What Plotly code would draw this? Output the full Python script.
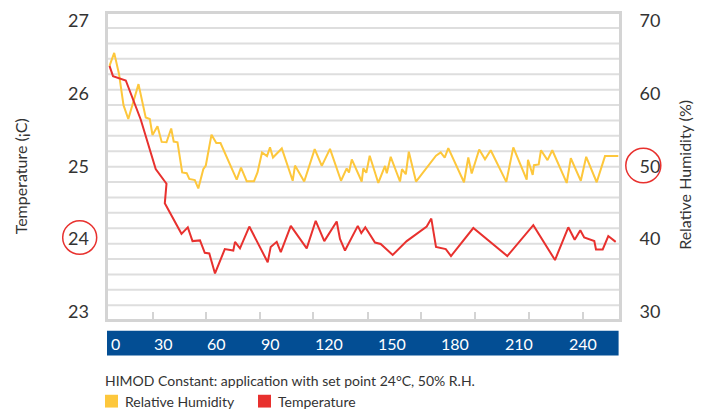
import plotly.graph_objects as go

# ---------------- data ----------------
time_rh = [0, 2.35, 4.75, 7, 9.4, 14.5, 18.1, 20.15, 21.5, 24, 26.1, 28.5, 30.85, 32.1, 34,
           36.35, 38.6, 39.9, 42.65, 44.4, 46.9, 48.15, 51, 53.4, 55.5, 63.6, 65.75, 68.6,
           72.25, 74, 76.25, 78.75, 80.25, 81.75, 86.15, 91.6, 92.75, 97.35, 102.6, 106.15,
           110.25, 115.75, 118.6, 119.75, 121.15, 126.1, 126.9, 128.4, 130.1, 134.4, 137.75,
           138.65, 140.6, 145.25, 146.25, 148.15, 149.65, 153.25, 163.25, 165.6, 167.6, 169.4,
           177.25, 179.4, 181.1, 184.85, 187.75, 190.6, 198.4, 201.9, 208.6, 209.25, 211.6,
           212.25, 214.6, 215.75, 219, 221.4, 228.6, 230.65, 235.65, 238.35, 243.6, 247.75, 254.4]
rh = [63.8, 65.6, 62.7, 58.4, 56.5, 61.3, 56.7, 56.5, 54.3, 55.5, 53.35, 53.3, 55.2, 53.4, 53.3,
      49.15, 49.05, 48.25, 48.1, 46.95, 49.6, 50.1, 54.35, 53.2, 53.2, 48.15, 49.8, 47.95,
      47.95, 49.15, 51.9, 51.4, 52.6, 51.2, 52.45, 48.0, 50.1, 47.9, 52.35, 50.05,
      52.4, 48.0, 49.7, 49.15, 50.95, 47.9, 49.7, 49.1, 51.45, 47.7, 50.05,
      49.05, 51.3, 47.9, 49.6, 48.9, 52.0, 47.9, 51.45, 51.9, 51.2, 52.5,
      47.8, 51.2, 49.0, 52.3, 50.95, 52.2, 47.85, 52.6, 48.15, 50.9, 48.8,
      50.15, 50.25, 52.2, 50.85, 52.2, 47.7, 51.1, 48.0, 51.3, 47.8, 51.4, 51.4]

time_temp = [0, 1.75, 8.15, 15.65, 23.1, 28.5, 27.65, 36, 39.15, 41.5, 45.25, 47.65, 49.9, 52.75,
             57.65, 61.9, 62.75, 65.25, 69.9, 79.1, 80.6, 83.6, 85.65, 90.65, 98.6, 103.1, 107.4,
             113.6, 115.25, 117.75, 124.15, 125.9, 127.9, 132.75, 135.6, 141.6, 148.6, 158.6,
             160.9, 163.25, 168.15, 170.75, 181.9, 198.9, 211.9, 222.75, 229.4, 232.6, 235.4,
             237.35, 242.4, 243.25, 246.6, 249.4, 253.1]
temp = [26.38, 26.24, 26.18, 25.64, 24.96, 24.76, 24.49, 24.07, 24.16, 23.97, 23.98, 23.81, 23.80,
        23.525, 23.86, 23.84, 23.96, 23.87, 24.17, 23.68, 23.89, 23.96, 23.82, 24.18, 23.87, 24.25,
        23.97, 24.24, 24.0, 23.84, 24.18, 24.08, 24.16, 23.95, 23.93, 23.78, 23.97, 24.17,
        24.28, 23.89, 23.86, 23.765, 24.15, 23.765, 24.19, 23.71, 24.16, 23.99, 24.12,
        24.02, 23.97, 23.855, 23.855, 24.04, 23.96]

x_tick_labels = ["0", "30", "60", "90", "120", "150", "180", "210", "240"]
temp_ticks = [23, 24, 25, 26, 27]
rh_ticks = [30, 40, 50, 60, 70]
series_names = ["Relative Humidity", "Temperature"]
caption = "HIMOD Constant: application with set point 24°C, 50% R.H."
temp_title = "Temperature (¡C)"
rh_title = "Relative Humidity (%)"

# ---------------- layout geometry / style ----------------
W, H = 707, 411
L, R, T, B = 108, 88, 9, 92
PW, PH = W - L - R, H - T - B


def px(x):
    return (x - L) / PW


def py(y):
    return (H - B - y) / PH


x_label_pos = [3.1, 27.2, 53.6, 80.5, 109.5, 141.4, 172.9, 204.8, 236.5]
x_tick_marks = [21.5, 48.25, 75.25, 101.75, 129, 155.75, 182.75, 209.5, 236.75]
x_range = [-0.75, 254.75]
temp_range = [22.8985, 27.0948]
rh_range = [28.985, 70.948]

YELLOW = "#fdc73c"
RED = "#e8312e"
BLUE = "#034e94"
GRID = "#dedede"
BORDER = "#d4d4d4"
TXT = "#333333"
FONT = "Lato"

fig = go.Figure()
fig.add_trace(go.Scatter(x=time_rh, y=rh, mode="lines", name=series_names[0],
                         line=dict(color=YELLOW, width=2), yaxis="y"))
fig.add_trace(go.Scatter(x=time_temp, y=temp, mode="lines", name=series_names[1],
                         line=dict(color=RED, width=2), yaxis="y2"))

shapes = []
for i in range(19):
    yy = 23.3 + 15.65 * i
    shapes.append(dict(type="line", xref="paper", yref="paper", x0=0, x1=1,
                       y0=py(yy), y1=py(yy), line=dict(color=GRID, width=2), layer="below"))
# blue time bar
shapes.append(dict(type="rect", xref="paper", yref="paper", x0=px(107), x1=px(618.6),
                   y0=py(356), y1=py(331), fillcolor=BLUE, line=dict(width=0)))
# highlight circles
shapes.append(dict(type="circle", xref="paper", yref="paper", x0=px(62.7), x1=px(96.7),
                   y0=py(253.2), y1=py(219.2), line=dict(color=RED, width=1.5)))
shapes.append(dict(type="circle", xref="paper", yref="paper", x0=px(625.8), x1=px(660.8),
                   y0=py(180.5), y1=py(145.5), line=dict(color=RED, width=1.5)))
# legend squares
shapes.append(dict(type="rect", xref="paper", yref="paper", x0=px(105), x1=px(118),
                   y0=py(409), y1=py(396), fillcolor=YELLOW, line=dict(width=0)))
shapes.append(dict(type="rect", xref="paper", yref="paper", x0=px(258), x1=px(271),
                   y0=py(409), y1=py(396), fillcolor=RED, line=dict(width=0)))


def note(x, y, text, size, color=TXT, xref="paper", xanchor="center", angle=0):
    return dict(x=x, xref=xref, y=y, yref="paper", text=text, showarrow=False,
                xanchor=xanchor, yanchor="middle", textangle=angle,
                font=dict(size=size, color=color, family=FONT))


annotations = []
for pos, lab in zip(x_label_pos, x_tick_labels):
    annotations.append(note(pos, py(343.5), lab, 16, color="white", xref="x"))
annotations.append(note(px(20), py(174), temp_title, 16, angle=-90))
annotations.append(note(px(685), py(172.5), rh_title, 16, angle=-90))
annotations.append(note(px(103), py(381), caption, 14, xanchor="left"))
annotations.append(note(px(123), py(402.5), series_names[0], 14, xanchor="left"))
annotations.append(note(px(276), py(402.5), series_names[1], 14, xanchor="left"))

fig.update_layout(
    width=W, height=H,
    margin=dict(l=L, r=R, t=T, b=B),
    paper_bgcolor="white", plot_bgcolor="rgba(0,0,0,0)",
    showlegend=False,
    font=dict(family=FONT, color=TXT),
    xaxis=dict(range=x_range, showgrid=False, zeroline=False, showline=True, mirror=True,
               linecolor=BORDER, linewidth=3, ticks="inside", tickvals=x_tick_marks,
               ticklen=7, tickwidth=2, tickcolor=BORDER, showticklabels=False),
    yaxis=dict(range=rh_range, side="right", tickvals=rh_ticks, showgrid=False, zeroline=False,
               showline=True, mirror=True, linecolor=BORDER, linewidth=3, ticks="",
               ticklabelstandoff=14, tickfont=dict(size=18, color=TXT, family=FONT)),
    yaxis2=dict(range=temp_range, side="left", overlaying="y", tickvals=temp_ticks,
                showgrid=False, zeroline=False, showline=False, ticks="",
                ticklabelstandoff=18, tickfont=dict(size=18, color=TXT, family=FONT)),
    shapes=shapes,
    annotations=annotations,
)

fig.write_html("out.html", config={"displayModeBar": False, "staticPlot": True},
               post_script="document.body.style.margin='0';document.body.style.overflow='hidden';")
